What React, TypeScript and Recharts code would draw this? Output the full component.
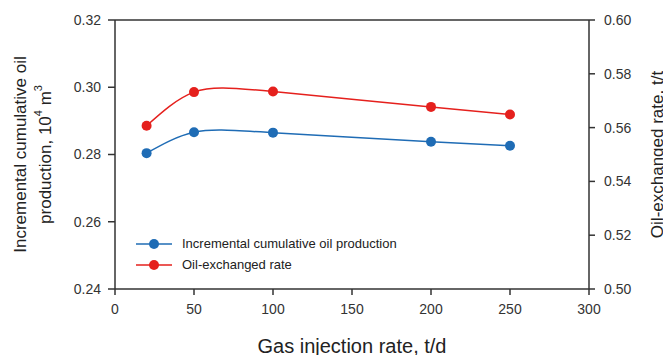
import React from 'react';
import { ComposedChart, Line, XAxis, YAxis, Legend, ReferenceLine, Label } from 'recharts';

const gasRates = [20, 50, 100, 200, 250];
const incrementalOil = [0.2804, 0.2866, 0.2865, 0.2838, 0.2826];
const oilExchanged = [0.5607, 0.5732, 0.5734, 0.5677, 0.5649];
const xTicks = [0, 50, 100, 150, 200, 250, 300];
const leftTicks = [0.24, 0.26, 0.28, 0.30, 0.32];
const rightTicks = [0.50, 0.52, 0.54, 0.56, 0.58, 0.60];
const seriesNames = ['Incremental cumulative oil production', 'Oil-exchanged rate'];

const BLUE = '#1f6cb5';
const RED = '#e5201d';
const AXIS = '#333333';
const FONT = '"Liberation Sans", Arial, sans-serif';

const data = gasRates.map((x, i) => ({ x, oil: incrementalOil[i], rate: oilExchanged[i] }));

const LegendContent = () => (
  <div style={{ fontFamily: FONT, fontSize: 13, color: '#222' }}>
    {[
      { name: seriesNames[0], color: BLUE },
      { name: seriesNames[1], color: RED },
    ].map((s) => (
      <div key={s.name} style={{ display: 'flex', alignItems: 'center', height: 21 }}>
        <svg width={36} height={14} style={{ marginRight: 10 }}>
          <line x1={0} y1={7} x2={36} y2={7} stroke={s.color} strokeWidth={1.5} />
          <circle cx={18} cy={7} r={5} fill={s.color} />
        </svg>
        <span>{s.name}</span>
      </div>
    ))}
  </div>
);

const LeftTitle = (props: any) => {
  const vb = props.viewBox || {};
  const cy = vb.y + vb.height / 2;
  return (
    <g>
      <text x={12} y={cy} transform={`rotate(-90, 12, ${cy})`} textAnchor="middle" dominantBaseline="central" fontFamily={FONT} fontSize={17} fill="#222">
        Incremental cumulative oil
      </text>
      <text x={37} y={cy} transform={`rotate(-90, 37, ${cy})`} textAnchor="middle" dominantBaseline="central" fontFamily={FONT} fontSize={17} fill="#222">
        production, 10<tspan fontSize={11} dy={-7}>4</tspan><tspan dy={7}> m</tspan><tspan fontSize={11} dy={-7}>3</tspan>
      </text>
    </g>
  );
};

const RightTitle = (props: any) => {
  const vb = props.viewBox || {};
  const cy = vb.y + vb.height / 2;
  return (
    <text x={649} y={cy} transform={`rotate(-90, 649, ${cy})`} textAnchor="middle" dominantBaseline="central" fontFamily={FONT} fontSize={17} fill="#222">
      Oil-exchanged rate, t/t
    </text>
  );
};

const tickStyle = { fontFamily: FONT, fontSize: 14, fill: '#333' };

export default function App() {
  return (
    <ComposedChart width={663} height={347} data={data} margin={{ top: 12, right: 22, bottom: 36, left: 47 }}>
      <XAxis
        dataKey="x"
        type="number"
        domain={[0, 300]}
        ticks={xTicks}
        tick={tickStyle}
        stroke={AXIS}
        strokeWidth={1.5}
        tickSize={6}
        tickMargin={9}
        height={30}
      >
        <Label value="Gas injection rate, t/d" position="bottom" offset={20} style={{ fontFamily: FONT, fontSize: 20, fill: '#222' }} />
      </XAxis>
      <YAxis
        yAxisId="left"
        orientation="left"
        domain={[0.24, 0.32]}
        ticks={leftTicks}
        tickFormatter={(v: number) => v.toFixed(2)}
        tick={tickStyle}
        stroke={AXIS}
        strokeWidth={1.5}
        tickSize={7}
        tickMargin={7}
        width={60}
        label={<LeftTitle />}
      />
      <YAxis
        yAxisId="right"
        orientation="right"
        domain={[0.5, 0.6]}
        ticks={rightTicks}
        tickFormatter={(v: number) => v.toFixed(2)}
        tick={tickStyle}
        stroke={AXIS}
        strokeWidth={1.5}
        tickSize={6}
        tickMargin={9}
        width={60}
        label={<RightTitle />}
      />
      <ReferenceLine yAxisId="left" y={0.32} stroke={AXIS} strokeWidth={1.5} />
      <Legend
        layout="vertical"
        align="center"
        verticalAlign="middle"
        content={<LegendContent />}
        wrapperStyle={{ position: 'absolute', left: 128, top: 225, width: 320 }}
      />
      <Line yAxisId="left" type="natural" dataKey="oil" name={seriesNames[0]} stroke={BLUE} strokeWidth={1.5}
        dot={{ r: 5, fill: BLUE, stroke: BLUE, strokeWidth: 0 }} activeDot={false} isAnimationActive={false} />
      <Line yAxisId="right" type="natural" dataKey="rate" name={seriesNames[1]} stroke={RED} strokeWidth={1.5}
        dot={{ r: 5, fill: RED, stroke: RED, strokeWidth: 0 }} activeDot={false} isAnimationActive={false} />
    </ComposedChart>
  );
}
